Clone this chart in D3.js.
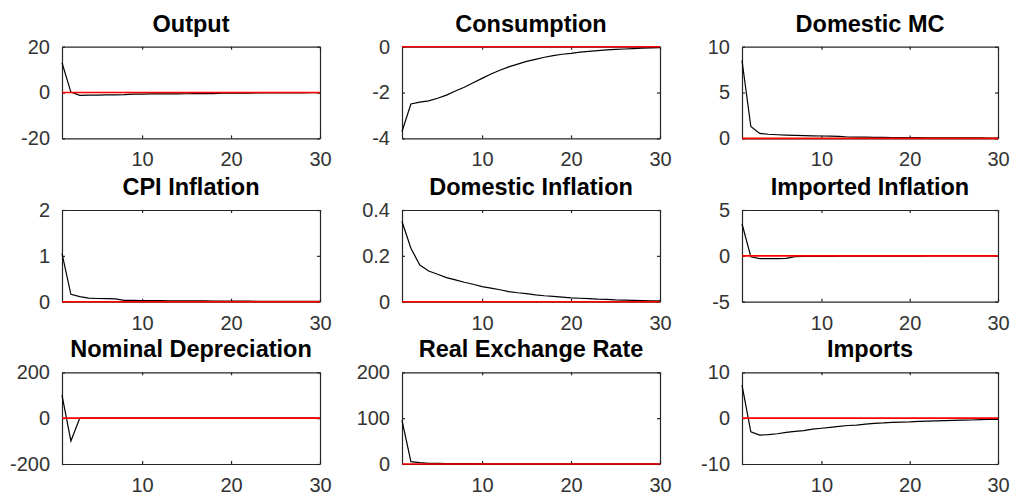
<!DOCTYPE html>
<html>
<head>
<meta charset="utf-8">
<script src="https://cdn.jsdelivr.net/npm/d3@7"></script>
<style>
  html, body { margin: 0; padding: 0; background: #fff; }
  svg { display: block; }
</style>
</head>
<body>
<svg id="chart" width="1012" height="495"></svg>
<script>
// ---- data ----
const periods = [1,2,3,4,5,6,7,8,9,10,11,12,13,14,15,16,17,18,19,20,21,22,23,24,25,26,27,28,29,30];

const output = [13, 0.2, -1.2, -1.15, -1.1, -1.05, -1.0, -0.9, -0.7, -0.65, -0.62, -0.6, -0.58, -0.55, -0.52, -0.5, -0.48, -0.45, -0.3, -0.28, -0.25, -0.22, -0.2, -0.18, -0.16, -0.14, -0.12, -0.1, -0.09, -0.08];
const consumption = [-3.7, -2.5, -2.42, -2.36, -2.25, -2.11, -1.93, -1.77, -1.57, -1.38, -1.19, -1.03, -0.88, -0.76, -0.64, -0.55, -0.46, -0.39, -0.33, -0.29, -0.24, -0.2, -0.17, -0.14, -0.12, -0.1, -0.08, -0.06, -0.05, -0.04];
const domesticMC = [8.5, 1.3, 0.55, 0.45, 0.4, 0.35, 0.32, 0.3, 0.28, 0.26, 0.24, 0.22, 0.15, 0.14, 0.13, 0.12, 0.11, 0.1, 0.09, 0.08, 0.08, 0.07, 0.07, 0.06, 0.06, 0.05, 0.05, 0.05, 0.04, 0.04];
const cpiInflation = [1.05, 0.16, 0.11, 0.08, 0.07, 0.065, 0.06, 0.03, 0.028, 0.026, 0.024, 0.022, 0.02, 0.019, 0.018, 0.017, 0.016, 0.015, 0.014, 0.013, 0.012, 0.011, 0.01, 0.01, 0.009, 0.009, 0.008, 0.008, 0.007, 0.007];
const domesticInflation = [0.35, 0.233, 0.16, 0.134, 0.12, 0.105, 0.095, 0.085, 0.076, 0.066, 0.059, 0.052, 0.044, 0.039, 0.035, 0.03, 0.026, 0.023, 0.02, 0.017, 0.015, 0.013, 0.011, 0.01, 0.008, 0.007, 0.006, 0.005, 0.004, 0.004];
const importedInflation = [3.5, -0.1, -0.3, -0.3, -0.3, -0.28, -0.08, -0.07, -0.06, -0.05, -0.05, -0.04, -0.04, -0.03, -0.03, -0.03, -0.02, -0.02, -0.02, -0.02, -0.02, -0.01, -0.01, -0.01, -0.01, -0.01, -0.01, -0.01, -0.01, -0.01];
const nominalDepreciation = [100, -100, 0, 0.5, 0.3, 0.2, 0.1, 0.1, 0.05, 0.05, 0.04, 0.03, 0.03, 0.02, 0.02, 0.02, 0.01, 0.01, 0.01, 0.01, 0.01, 0.01, 0.01, 0.01, 0.01, 0.01, 0.01, 0.01, 0.01, 0.01];
const realExchangeRate = [95, 5, 3, 1.5, 1.2, 1.0, 0.9, 0.8, 0.7, 0.6, 0.55, 0.5, 0.45, 0.4, 0.35, 0.3, 0.28, 0.25, 0.22, 0.2, 0.18, 0.16, 0.14, 0.12, 0.1, 0.09, 0.08, 0.07, 0.06, 0.05];
const imports = [7.2, -3.0, -3.7, -3.6, -3.4, -3.1, -2.9, -2.7, -2.4, -2.2, -2.0, -1.8, -1.6, -1.5, -1.3, -1.15, -1.05, -0.9, -0.85, -0.8, -0.7, -0.65, -0.6, -0.55, -0.5, -0.45, -0.4, -0.3, -0.28, -0.25];

const titles = ["Output", "Consumption", "Domestic MC", "CPI Inflation", "Domestic Inflation", "Imported Inflation", "Nominal Depreciation", "Real Exchange Rate", "Imports"];
const seriesList = [output, consumption, domesticMC, cpiInflation, domesticInflation, importedInflation, nominalDepreciation, realExchangeRate, imports];
const yTicksList = [[-20,0,20], [-4,-2,0], [0,5,10], [0,1,2], [0,0.2,0.4], [-5,0,5], [-200,0,200], [0,100,200], [-10,0,10]];
const xTicks = [10, 20, 30];
const xDomain = [1, 30];

// ---- layout ----
const colLeft = [62, 402, 742];
const colWidth = [258, 258, 256];
const rowTop = [46.7, 210, 372.3];
const plotH = 91.7;

const svg = d3.select("#chart");
const axisColor = "#262626";
const labelColor = "#333333";
const font = "'Liberation Sans', Arial, Helvetica, sans-serif";

seriesList.forEach((vals, i) => {
  const r = Math.floor(i / 3), c = i % 3;
  const x0 = colLeft[c], y0 = rowTop[r], w = colWidth[c], h = plotH;
  const yt = yTicksList[i];
  const x = d3.scaleLinear().domain(xDomain).range([x0, x0 + w]);
  const y = d3.scaleLinear().domain([yt[0], yt[yt.length - 1]]).range([y0 + h, y0]);

  const g = svg.append("g");

  // title
  g.append("text")
    .attr("x", x0 + w / 2)
    .attr("y", y0 - 15)
    .attr("text-anchor", "middle")
    .attr("font-family", font)
    .attr("font-weight", "bold")
    .attr("font-size", 23.5)
    .attr("fill", "#000")
    .text(titles[i]);

  // axes (MATLAB-style box with inward ticks)
  const xb = g.append("g").attr("transform", `translate(0,${y0 + h})`)
    .call(d3.axisBottom(x).tickValues(xTicks).tickSizeInner(-3).tickSizeOuter(0).tickPadding(10).tickFormat(d => String(d)));
  const xt = g.append("g").attr("transform", `translate(0,${y0})`)
    .call(d3.axisTop(x).tickValues(xTicks).tickSizeInner(-3).tickSizeOuter(0).tickFormat(""));
  const yl = g.append("g").attr("transform", `translate(${x0},0)`)
    .call(d3.axisLeft(y).tickValues(yt).tickSizeInner(-3).tickSizeOuter(0).tickPadding(12).tickFormat(d => String(d)));
  const yr = g.append("g").attr("transform", `translate(${x0 + w},0)`)
    .call(d3.axisRight(y).tickValues(yt).tickSizeInner(-3).tickSizeOuter(0).tickFormat(""));

  [xb, xt, yl, yr].forEach(a => {
    a.select(".domain").attr("stroke", axisColor).attr("stroke-width", 1.2);
    a.selectAll(".tick line").attr("stroke", axisColor).attr("stroke-width", 1.2);
    a.selectAll(".tick text")
      .attr("font-family", font)
      .attr("font-size", 20)
      .attr("fill", labelColor);
  });
  xb.selectAll(".tick text").attr("dy", "0.9em");

  // response line
  const line = d3.line().x((d, k) => x(periods[k])).y(d => y(d));
  g.append("path")
    .datum(vals)
    .attr("fill", "none")
    .attr("stroke", "#000")
    .attr("stroke-width", 1.2)
    .attr("d", line);

  // zero line
  g.append("path")
    .datum(periods)
    .attr("fill", "none")
    .attr("stroke", "#ff0000")
    .attr("stroke-width", 1.6)
    .attr("d", d3.line().x(d => x(d)).y(() => y(0)));
});
</script>
</body>
</html>
